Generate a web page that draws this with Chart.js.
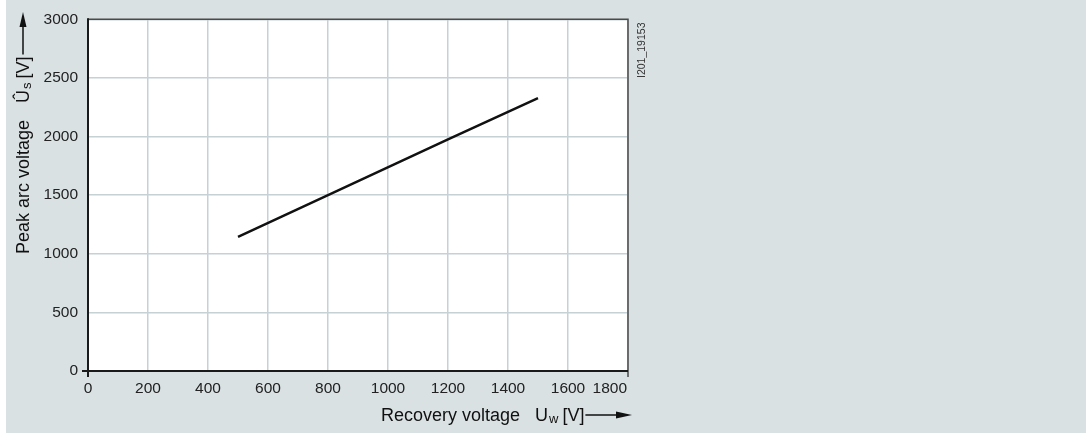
<!DOCTYPE html>
<html>
<head>
<meta charset="utf-8">
<script src="https://cdn.jsdelivr.net/npm/chart.js@4.4.1/dist/chart.umd.min.js"></script>
<style>
  html, body { margin: 0; padding: 0; background: #ffffff; }
  #wrap { width: 1086px; height: 435px; position: relative; }
</style>
</head>
<body>
<div id="wrap"><canvas id="c" width="1086" height="435"></canvas></div>
<script>
// ---- data ----
const recoveryVoltage = [500, 800, 1200, 1500];          // U_w [V]
const peakArcVoltage  = [1145, 1500, 1975, 2328];        // Û_s [V]
const xTickValues = [0, 200, 400, 600, 800, 1000, 1200, 1400, 1600, 1800];
const yTickValues = [0, 500, 1000, 1500, 2000, 2500, 3000];
const yTitleText = 'Peak arc voltage';
const xTitleText = 'Recovery voltage';
const docId = 'I201_19153';

const BG = '#d9e1e3';
const GRID = '#c6d1d5';
const FONT = '"Liberation Sans", Arial, Helvetica, sans-serif';

const bgPlugin = {
  id: 'bg',
  beforeDraw(chart) {
    const ctx = chart.ctx;
    const a = chart.chartArea;
    ctx.save();
    ctx.fillStyle = '#ffffff';
    ctx.fillRect(0, 0, chart.width, chart.height);
    ctx.fillStyle = BG;
    ctx.fillRect(6, 0, chart.width - 6, 433);
    ctx.fillStyle = '#ffffff';
    ctx.fillRect(a.left, a.top, a.right - a.left, a.bottom - a.top);
    ctx.restore();
  }
};

function arrowUp(ctx, x, yBottom, yTop) {
  ctx.beginPath();
  ctx.moveTo(x, yBottom);
  ctx.lineTo(x, yTop + 10);
  ctx.stroke();
  ctx.beginPath();
  ctx.moveTo(x, yTop);
  ctx.lineTo(x - 3.5, yTop + 15);
  ctx.lineTo(x + 3.5, yTop + 15);
  ctx.closePath();
  ctx.fill();
}
function arrowRight(ctx, xLeft, xRight, y) {
  ctx.beginPath();
  ctx.moveTo(xLeft, y);
  ctx.lineTo(xRight - 10, y);
  ctx.stroke();
  ctx.beginPath();
  ctx.moveTo(xRight, y);
  ctx.lineTo(xRight - 16, y - 3.5);
  ctx.lineTo(xRight - 16, y + 3.5);
  ctx.closePath();
  ctx.fill();
}

const decorPlugin = {
  id: 'decor',
  afterDatasetsDraw(chart) {
    const ctx = chart.ctx;
    const a = chart.chartArea;
    const xs = chart.scales.x;
    ctx.save();
    // frame: top & right dark grey
    ctx.strokeStyle = '#4a4a4a';
    ctx.lineWidth = 1.5;
    ctx.beginPath();
    ctx.moveTo(a.left, a.top);
    ctx.lineTo(a.right, a.top);
    ctx.lineTo(a.right, a.bottom + 6);
    ctx.stroke();
    // axes black
    ctx.strokeStyle = '#1a1a1a';
    ctx.lineWidth = 2;
    ctx.beginPath();
    ctx.moveTo(a.left, a.top - 1);
    ctx.lineTo(a.left, a.bottom + 6);
    ctx.moveTo(a.left - 6, a.bottom);
    ctx.lineTo(a.right, a.bottom);
    ctx.stroke();

    // x tick labels (last one kept inside the frame)
    ctx.fillStyle = '#222';
    ctx.font = '15.5px ' + FONT;
    ctx.textBaseline = 'middle';
    xs.ticks.forEach((t, i) => {
      const px = xs.getPixelForValue(t.value);
      const last = i === xs.ticks.length - 1;
      ctx.textAlign = last ? 'right' : 'center';
      ctx.fillText(String(t.value), last ? px - 1 : px, a.bottom + 18);
    });

    // x title
    ctx.fillStyle = '#111';
    ctx.strokeStyle = '#111';
    ctx.textAlign = 'left';
    ctx.textBaseline = 'alphabetic';
    ctx.font = '18px ' + FONT;
    let x = 381, y = 421;
    ctx.fillText(xTitleText, x, y);
    x = 535;
    ctx.fillText('U', x, y);
    x += ctx.measureText('U').width + 1;
    ctx.font = '13px ' + FONT;
    ctx.fillText('w', x, y + 2);
    x += ctx.measureText('w').width + 4;
    ctx.font = '18px ' + FONT;
    ctx.fillText('[V]', x, y);
    x += ctx.measureText('[V]').width + 1;
    ctx.lineWidth = 1.5;
    arrowRight(ctx, x, 632, y - 6);

    // y title (rotated)
    ctx.save();
    ctx.translate(29, 254);
    ctx.rotate(-Math.PI / 2);
    ctx.font = '18px ' + FONT;
    let u = 0;
    ctx.fillText(yTitleText, u, 0);
    u = 151;
    ctx.fillText('Û', u, 0);
    u += ctx.measureText('U').width + 1;
    ctx.font = '13px ' + FONT;
    ctx.fillText('s', u, 2);
    u += ctx.measureText('s').width + 4;
    ctx.font = '18px ' + FONT;
    ctx.fillText('[V]', u, 0);
    u += ctx.measureText('[V]').width + 2;
    ctx.restore();
    ctx.lineWidth = 1.5;
    arrowUp(ctx, 23, 254 - u, 12);

    // document id
    ctx.save();
    ctx.translate(645, 78);
    ctx.rotate(-Math.PI / 2);
    ctx.font = '10.5px ' + FONT;
    ctx.fillStyle = '#333';
    ctx.textAlign = 'left';
    ctx.fillText(docId, 0, 0);
    ctx.restore();

    ctx.restore();
  }
};

new Chart(document.getElementById('c'), {
  type: 'line',
  data: {
    datasets: [{
      data: recoveryVoltage.map((v, i) => ({ x: v, y: peakArcVoltage[i] })),
      borderColor: '#111',
      borderWidth: 2.5,
      pointRadius: 0,
      tension: 0,
      fill: false
    }]
  },
  options: {
    responsive: false,
    animation: false,
    layout: { padding: { left: 0, top: 19, right: 458, bottom: 0 } },
    plugins: { legend: { display: false }, tooltip: { enabled: false } },
    scales: {
      x: {
        type: 'linear',
        min: 0, max: 1800,
        afterBuildTicks(s) { s.ticks = xTickValues.map(v => ({ value: v })); },
        afterFit(s) { s.height = 64; },
        grid: { color: GRID, lineWidth: 1.5, drawTicks: false },
        border: { display: false },
        ticks: { display: false }
      },
      y: {
        type: 'linear',
        min: 0, max: 3000,
        afterBuildTicks(s) { s.ticks = yTickValues.map(v => ({ value: v })); },
        afterFit(s) { s.width = 88; },
        grid: { color: GRID, lineWidth: 1.5, drawTicks: false },
        border: { display: false },
        ticks: {
          padding: 10,
          color: '#222',
          font: { family: FONT, size: 15.5 },
          callback: (v) => String(v)
        }
      }
    }
  },
  plugins: [bgPlugin, decorPlugin]
});
</script>
</body>
</html>
